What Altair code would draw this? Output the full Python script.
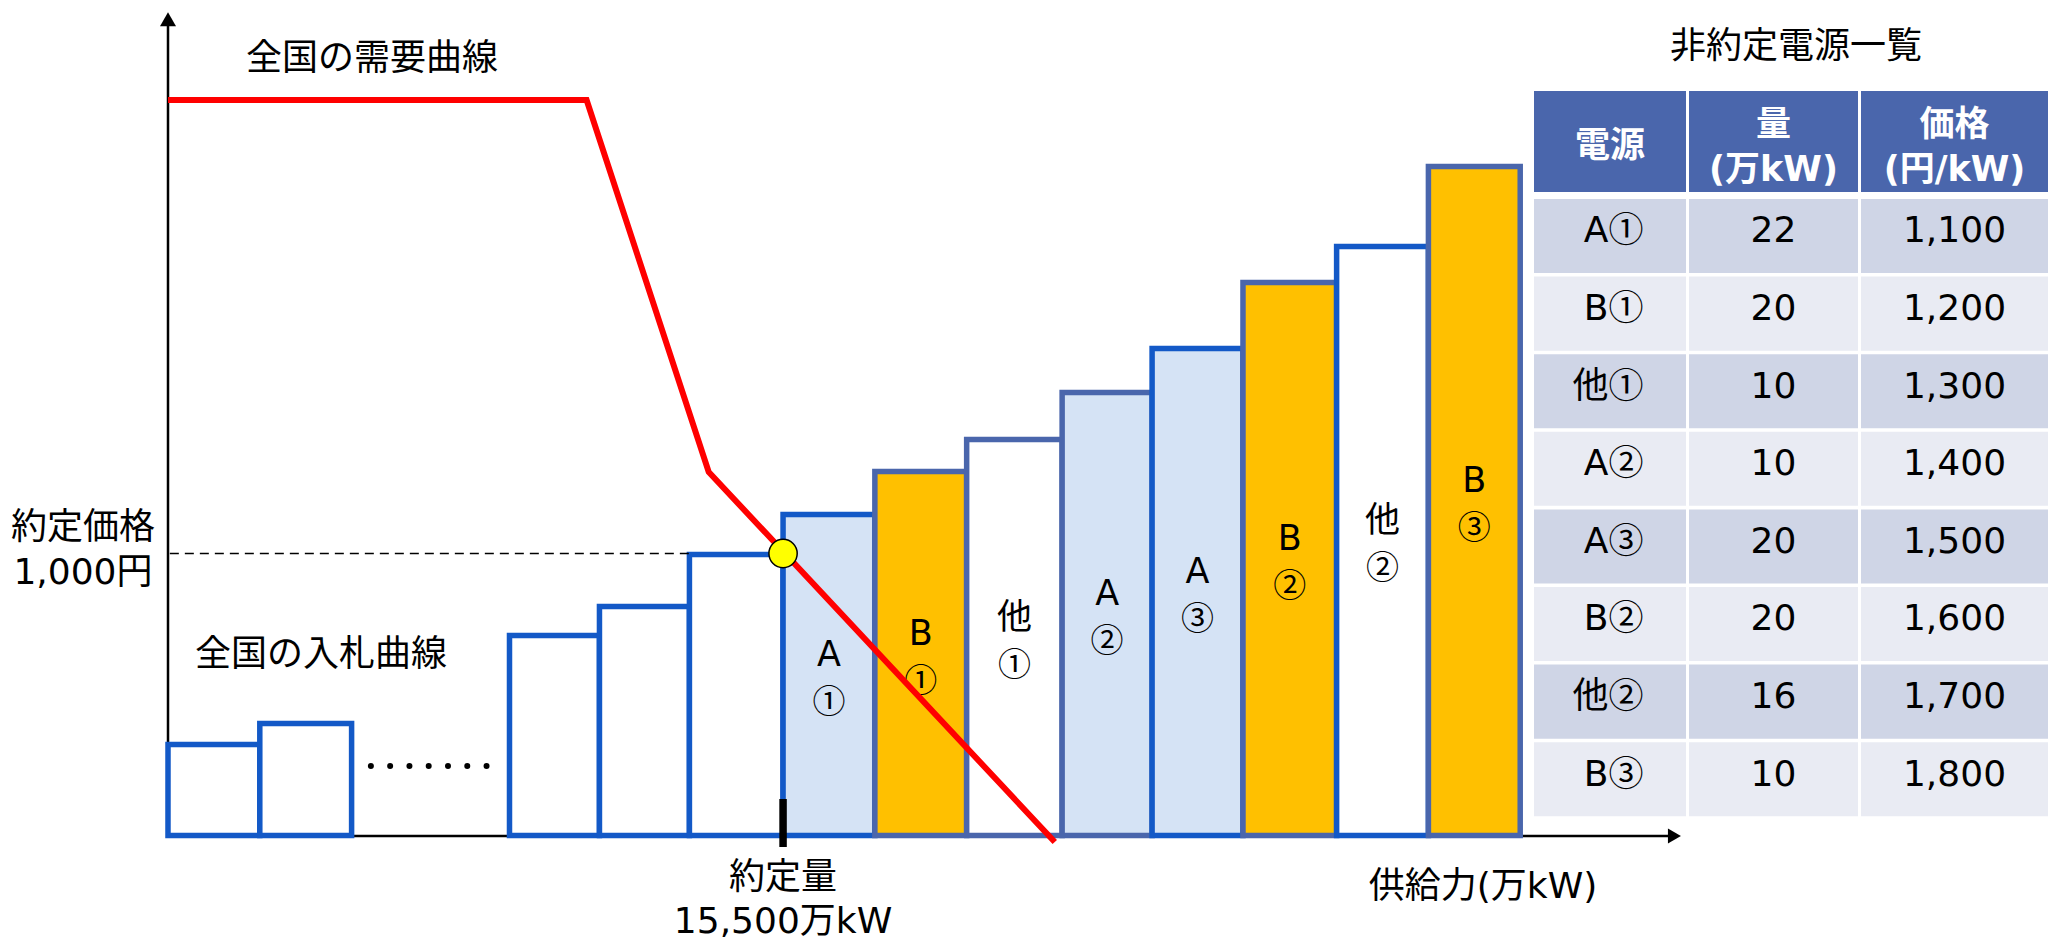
import altair as alt
import pandas as pd

# ---------------- values ----------------
# Blocks of the national bid curve: five anonymous bids, then the
# non-contracted sources in merit order (schematic supply units / price levels).
block_names = ["", "", "", "", "", "A①", "B①", "他①", "A②", "A③", "B②", "他②", "B③"]
block_left = [0.00, 1.00, 3.72, 4.70, 5.68, 6.70, 7.70, 8.70, 9.74, 10.72, 11.71, 12.73, 13.73]
block_right = [1.00, 2.00, 4.70, 5.68, 6.70, 7.70, 8.70, 9.74, 10.72, 11.71, 12.73, 13.73, 14.73]
block_level = [91, 112, 200, 229, 281, 321, 364, 396, 443, 487, 553, 589, 669]

# "·······" between the first bids and the rest of the curve
gap_dots_x = [2.21, 2.42, 2.63, 2.84, 3.05, 3.26, 3.47]
gap_dots_level = 69.5

# National demand curve (kinked line)
demand_x = [0.00, 4.56, 5.89, 9.66]
demand_level = [735.5, 735.5, 363.5, -6.5]

# Clearing result
clear_qty = 15500     # 万kW
clear_price = 1000    # 円
clear_x = 6.70
clear_level = 282

# Non-contracted source list
src_names = ["A①", "B①", "他①", "A②", "A③", "B②", "他②", "B③"]
src_qty = [22, 20, 10, 10, 20, 20, 16, 10]
src_price = [1100, 1200, 1300, 1400, 1500, 1600, 1700, 1800]

# ---------------- layout & style ----------------
W, H = 2050, 939
ORIGIN_PX, UNIT_PX, BASE_PX = 168, 91.8, 835.5
XS = alt.Scale(domain=[-ORIGIN_PX / UNIT_PX, (W - ORIGIN_PX) / UNIT_PX], nice=False, zero=False)
YS = alt.Scale(domain=[BASE_PX - H, BASE_PX], nice=False, zero=False)

TABLE_LEFT = 1534
ROW0_PX, ROW_PITCH = 199, 77.6
TXS = alt.Scale(domain=[-TABLE_LEFT, W - TABLE_LEFT], nice=False, zero=False)
TYS = alt.Scale(domain=[-ROW0_PX / ROW_PITCH, (H - ROW0_PX) / ROW_PITCH],
                nice=False, zero=False, reverse=True)
COLS = [(0, 152), (155, 324), (327, 514)]
ROW_FILL = 0.954
HEADER_SPAN = (-1.392, -0.09)

FONT = "DejaVu Sans, Noto Sans CJK JP"
CJK = "Noto Sans CJK JP"
BRIGHT = "#1359C7"
SLATE = "#4A66AC"
LIGHT = "#D5E3F5"
AMBER = "#FFC000"
RED = "#FF0000"
HEAD = "#4A66AC"
ROW_A = "#CFD5E6"
ROW_B = "#E9EBF3"
LABEL_GAP = 25   # half distance between the two label lines inside a block

fill_by_kind = {"": "white", "A": LIGHT, "B": AMBER, "他": "white"}
bright_edged = {"", "A①", "A③", "他②"}


def qx(field):
    return alt.X(field, type="quantitative", scale=XS, axis=None)


def qy(field):
    return alt.Y(field, type="quantitative", scale=YS, axis=None)


def tx(field):
    return alt.X(field, type="quantitative", scale=TXS, axis=None)


def ty(field):
    return alt.Y(field, type="quantitative", scale=TYS, axis=None)


# ---------------- main diagram ----------------
bars_df = pd.DataFrame({"name": block_names, "x": block_left, "x2": block_right, "top": block_level})
bars_df["base"] = 0.0
bars_df["fill"] = [fill_by_kind[n[:1]] for n in bars_df["name"]]
bars_df["edge"] = [BRIGHT if n in bright_edged else SLATE for n in bars_df["name"]]

axes_df = pd.DataFrame({
    "x": [0.0, 0.0], "x2": [0.0, 16.41],
    "y": [-2.5, -0.5], "y2": [816.0, -0.5],
})
axis_lines = alt.Chart(axes_df).mark_rule(color="black", strokeWidth=2.5).encode(
    x=qx("x"), x2="x2:Q", y=qy("y"), y2="y2:Q")

bars = alt.Chart(bars_df).mark_rect(strokeWidth=5.5, opacity=1).encode(
    x=qx("x"), x2="x2:Q", y=qy("base"), y2="top:Q",
    fill=alt.Fill("fill:N", scale=None),
    stroke=alt.Stroke("edge:N", scale=None))

named = bars_df[bars_df["name"] != ""]
kind_rows, num_rows = [], []
for _, r in named.iterrows():
    mid_x = (r["x"] + r["x2"]) / 2
    mid_y = r["top"] / 2
    kind_rows.append({"t": r["name"][0], "x": mid_x, "y": mid_y + LABEL_GAP - 2})
    num_rows.append({"t": r["name"][1:], "x": mid_x, "y": mid_y - LABEL_GAP})
bar_kind = alt.Chart(pd.DataFrame(kind_rows)).mark_text(
    font=FONT, fontSize=35, align="center", baseline="middle", dy=3, color="black"
).encode(x=qx("x"), y=qy("y"), text="t:N")
bar_num = alt.Chart(pd.DataFrame(num_rows)).mark_text(
    font=CJK, fontSize=33, align="center", baseline="middle", dy=3, color="black"
).encode(x=qx("x"), y=qy("y"), text="t:N")

dots = alt.Chart(pd.DataFrame({"x": gap_dots_x, "y": [gap_dots_level] * len(gap_dots_x)})).mark_circle(
    size=36, color="black", opacity=1).encode(x=qx("x"), y=qy("y"))

dashed = alt.Chart(pd.DataFrame({"x": [0.02], "x2": [block_left[4]], "y": [clear_level]})).mark_rule(
    color="black", strokeWidth=1.6, strokeDash=[9, 6]).encode(x=qx("x"), x2="x2:Q", y=qy("y"))

demand = alt.Chart(pd.DataFrame({"x": demand_x, "y": demand_level, "i": range(len(demand_x))})).mark_line(
    color=RED, strokeWidth=6, strokeJoin="miter").encode(x=qx("x"), y=qy("y"), order="i:O")

tick = alt.Chart(pd.DataFrame({"x": [clear_x], "y": [36.5], "y2": [-11.5]})).mark_rule(
    color="black", strokeWidth=7.5).encode(x=qx("x"), y=qy("y"), y2="y2:Q")

marker = alt.Chart(pd.DataFrame({"x": [clear_x], "y": [clear_level]})).mark_point(
    shape="circle", filled=True, fill="#FFFF00", stroke="black", strokeWidth=1.5,
    size=800, opacity=1, fillOpacity=1).encode(x=qx("x"), y=qy("y"))

arrow_up = alt.Chart(pd.DataFrame({"x": [0.0], "y": [816.3]})).mark_point(
    shape="triangle-up", filled=True, color="black", size=256, opacity=1).encode(x=qx("x"), y=qy("y"))
arrow_right = alt.Chart(pd.DataFrame({"x": [16.41], "y": [-0.5]})).mark_point(
    shape="triangle-right", filled=True, color="black", size=225, opacity=1).encode(x=qx("x"), y=qy("y"))

left_notes = pd.DataFrame({
    "t": ["全国の需要曲線", "全国の入札曲線"],
    "x": [0.85, 0.294],
    "y": [779.5, 183.5],
})
center_notes = pd.DataFrame({
    "t": ["約定価格", f"{clear_price:,}円", "約定量", f"{clear_qty:,}万kW", "供給力(万kW)"],
    "x": [-0.926, -0.926, clear_x, clear_x, 14.325],
    "y": [clear_level + 28.5, clear_level - 16.5, -39.5, -83.0, -48.5],
})
notes_left = alt.Chart(left_notes).mark_text(
    font=FONT, fontSize=36, align="left", baseline="middle", dy=3, color="black"
).encode(x=qx("x"), y=qy("y"), text="t:N")
notes_center = alt.Chart(center_notes).mark_text(
    font=FONT, fontSize=36, align="center", baseline="middle", dy=3, color="black"
).encode(x=qx("x"), y=qy("y"), text="t:N")

main = alt.layer(axis_lines, bars, bar_kind, bar_num, dots, dashed, demand, tick, marker,
                 arrow_up, arrow_right, notes_left, notes_center)

# ---------------- source table ----------------
cells = []
for j, (c0, c1) in enumerate(COLS):
    cells.append({"x": c0, "x2": c1, "y": HEADER_SPAN[0], "y2": HEADER_SPAN[1], "fill": HEAD})
    for i in range(len(src_names)):
        cells.append({"x": c0, "x2": c1, "y": i, "y2": i + ROW_FILL,
                      "fill": ROW_A if i % 2 == 0 else ROW_B})
table_cells = alt.Chart(pd.DataFrame(cells)).mark_rect(opacity=1).encode(
    x=tx("x"), x2="x2:Q", y=ty("y"), y2="y2:Q", fill=alt.Fill("fill:N", scale=None))

col_mid = [(c0 + c1) / 2 for c0, c1 in COLS]
head_text = pd.DataFrame({
    "t": ["電源", "量", "(万kW)", "価格", "(円/kW)"],
    "x": [col_mid[0], col_mid[1], col_mid[1], col_mid[2], col_mid[2]],
    "y": [-0.722, -0.992, -0.412, -0.992, -0.412],
})
header_labels = alt.Chart(head_text).mark_text(
    font=FONT, fontSize=35, fontWeight="bold", align="center", baseline="middle", dy=3, color="white"
).encode(x=tx("x"), y=ty("y"), text="t:N")

# source names: kind letter and circled number meet just left of the column centre
name_kind, name_num, body = [], [], []
for i, (n, q, p) in enumerate(zip(src_names, src_qty, src_price)):
    name_kind.append({"t": n[0], "x": col_mid[0] - 1.5, "y": i + 0.38})
    name_num.append({"t": n[1:], "x": col_mid[0] - 1.5, "y": i + 0.38})
    body.append({"t": f"{q}", "x": col_mid[1], "y": i + 0.38})
    body.append({"t": f"{p:,}", "x": col_mid[2], "y": i + 0.38})
kind_labels = alt.Chart(pd.DataFrame(name_kind)).mark_text(
    font=FONT, fontSize=36, align="right", baseline="middle", dy=3, color="black"
).encode(x=tx("x"), y=ty("y"), text="t:N")
num_labels = alt.Chart(pd.DataFrame(name_num)).mark_text(
    font=CJK, fontSize=35, align="left", baseline="middle", dy=3, color="black"
).encode(x=tx("x"), y=ty("y"), text="t:N")
body_labels = alt.Chart(pd.DataFrame(body)).mark_text(
    font=FONT, fontSize=36, align="center", baseline="middle", dy=3, color="black"
).encode(x=tx("x"), y=ty("y"), text="t:N")

table_title = alt.Chart(pd.DataFrame({"t": ["非約定電源一覧"], "x": [262], "y": [-1.997]})).mark_text(
    font=FONT, fontSize=36, align="center", baseline="middle", dy=3, color="black"
).encode(x=tx("x"), y=ty("y"), text="t:N")

table = alt.layer(table_cells, header_labels, kind_labels, num_labels, body_labels, table_title)

chart = (
    alt.layer(main, table)
    .resolve_scale(x="independent", y="independent")
    .properties(width=W, height=H, padding=0, autosize=alt.AutoSizeParams(type="none"),
                background="white")
    .configure_view(strokeWidth=0)
)

chart.save("out.html", embed_options={"renderer": "svg", "actions": False})
